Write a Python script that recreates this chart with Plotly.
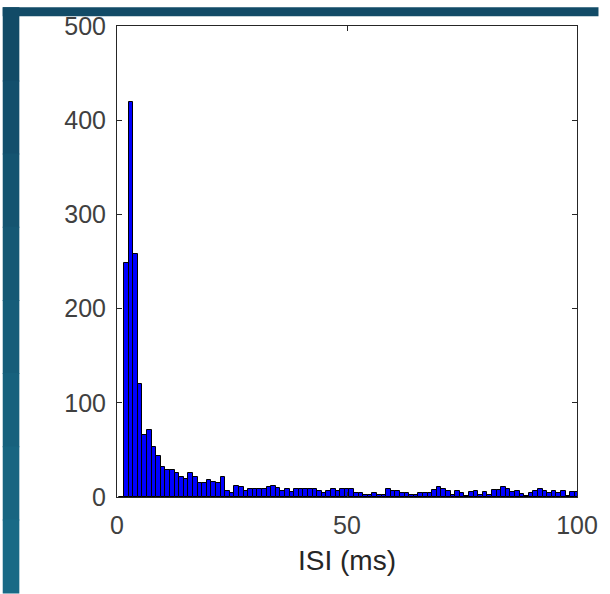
import plotly.graph_objects as go

# ISI histogram, 1 ms bins (bin centres 1..100)
bin_centres = list(range(1, 101))
counts = [
    0, 248, 419, 258, 120, 66, 71, 53, 43, 32,
    29, 29, 26, 21, 19, 25, 21, 15, 15, 18,
    16, 15, 21, 6, 4, 12, 11, 6, 9, 9,
    9, 9, 11, 12, 10, 6, 9, 5, 9, 8,
    9, 9, 8, 6, 4, 6, 9, 6, 8, 8,
    9, 4, 4, 2, 2, 4, 2, 2, 9, 6,
    6, 4, 4, 2, 2, 4, 4, 4, 7, 11,
    9, 6, 2, 6, 4, 1, 5, 6, 2, 5,
    2, 7, 7, 11, 9, 5, 6, 3, 1, 4,
    6, 9, 6, 4, 6, 4, 6, 1, 5, 5,
]
x_ticks = [0, 50, 100]
y_ticks = [0, 100, 200, 300, 400, 500]

W, H = 610, 594
ML, MR, MT, MB = 117, 22, 19, 97

fig = go.Figure()
fig.add_trace(go.Bar(
    x=bin_centres, y=counts, width=1,
    marker=dict(color="#0000ff", line=dict(color="#000000", width=1)),
    showlegend=False,
))

axis_common = dict(
    showgrid=False, zeroline=False, showline=True, mirror="ticks",
    linecolor="#262626", linewidth=1,
    ticks="inside", ticklen=5, tickcolor="#262626",
    tickfont=dict(family="Liberation Sans, Arial", size=25, color="#404040"),
)
fig.update_xaxes(range=[0, 100], tickvals=x_ticks, ticklabelstandoff=6,
                 title=dict(text="ISI (ms)", standoff=12,
                            font=dict(family="Liberation Sans, Arial", size=28, color="#262626")),
                 **axis_common)
fig.update_yaxes(range=[0, 500], tickvals=y_ticks, ticklabelstandoff=5, **axis_common)

# dark slide background strips (left and top)
pw = W - ML - MR
ph = H - MT - MB
def px_x(p):
    return (p - ML) / pw
def px_y(p):
    return 1 - (p - MT) / ph

fig.add_shape(type="rect", xref="paper", yref="paper",
              x0=px_x(0), x1=px_x(W), y0=px_y(9), y1=px_y(0),
              fillcolor="#124b67", line_width=0, layer="below")
bands = ["#124b67", "#134f6c", "#145470", "#155874", "#165d79", "#17617d", "#186581", "#196a86"]
step = H / len(bands)
for i, c in enumerate(bands):
    fig.add_shape(type="rect", xref="paper", yref="paper",
                  x0=px_x(0), x1=px_x(17), y0=px_y(i * step + step + 1), y1=px_y(i * step),
                  fillcolor=c, line_width=0, layer="below")

fig.update_layout(
    width=W, height=H,
    margin=dict(l=ML, r=MR, t=MT, b=MB),
    paper_bgcolor="white", plot_bgcolor="white",
    bargap=0,
)

fig.write_html("out.html",
               config={"displayModeBar": False, "responsive": False},
               post_script="document.body.style.margin='0';")
